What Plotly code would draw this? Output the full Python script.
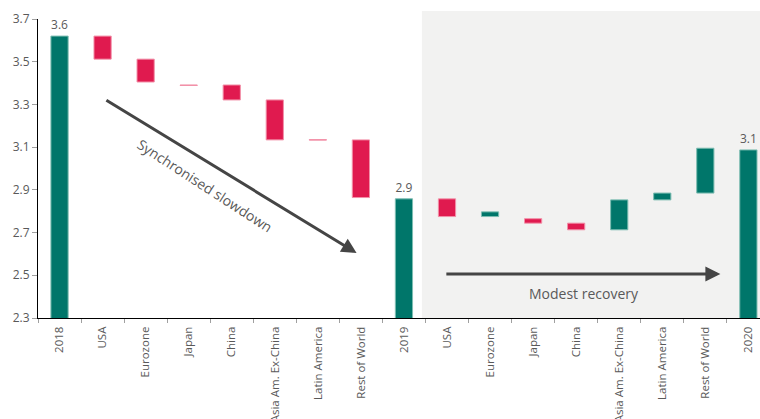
import plotly.graph_objects as go

# ---- data ----
labels = ["2018", "USA", "Eurozone", "Japan", "China", "Asia Am. Ex-China",
          "Latin America", "Rest of World", "2019", "USA", "Eurozone", "Japan",
          "China", "Asia Am. Ex-China", "Latin America", "Rest of World", "2020"]
is_total = [True, False, False, False, False, False, False, False, True,
            False, False, False, False, False, False, False, True]
# start / end level of each bar (totals start at 0)
bar_from = [0.0, 3.620, 3.512, 3.391, 3.391, 3.321, 3.135, 3.134, 0.0,
            2.858, 2.775, 2.765, 2.744, 2.713, 2.853, 2.885, 0.0]
bar_to = [3.620, 3.512, 3.405, 3.389, 3.321, 3.134, 3.133, 2.864, 2.858,
          2.775, 2.797, 2.744, 2.713, 2.853, 2.885, 3.095, 3.087]
y_ticks = [2.3, 2.5, 2.7, 2.9, 3.1, 3.3, 3.5, 3.7]

TEAL = "#00766A"
TEAL_EDGE = "#7DBDB2"
RED = "#E01A4F"
RED_EDGE = "#F290A8"
GREY_TXT = "#595959"
FONT = "Open Sans"

x = list(range(len(labels)))
base = [min(a, b) for a, b in zip(bar_from, bar_to)]
height = [abs(b - a) for a, b in zip(bar_from, bar_to)]
colors = [TEAL if (t or b >= a) else RED for t, a, b in zip(is_total, bar_from, bar_to)]
edges = [TEAL_EDGE if (t or b >= a) else RED_EDGE for t, a, b in zip(is_total, bar_from, bar_to)]
texts = [f"{v:.1f}" if t else "" for t, v in zip(is_total, bar_to)]

fig = go.Figure()
fig.add_trace(go.Bar(
    x=x, y=height, base=base, width=0.4,
    marker=dict(color=colors, line=dict(color=edges, width=1)),
    text=texts, textposition="outside", cliponaxis=False,
    textfont=dict(size=12, color=GREY_TXT, family=FONT),
    hoverinfo="skip", showlegend=False,
))

# shaded 2020 region
fig.add_shape(type="rect", xref="paper", yref="paper", x0=0.5317, x1=1.0,
              y0=0, y1=1.027, fillcolor="#F2F2F1", line=dict(width=0), layer="below")

ann = []
# arrows
ann.append(dict(x=6.90, y=2.604, ax=1.054, ay=3.324, xref="x", yref="y",
                axref="x", ayref="y", text="", showarrow=True, arrowhead=2,
                arrowsize=1, arrowwidth=3, arrowcolor="#454545"))
ann.append(dict(x=15.35, y=2.506, ax=8.95, ay=2.506, xref="x", yref="y",
                axref="x", ayref="y", text="", showarrow=True, arrowhead=2,
                arrowsize=1, arrowwidth=3, arrowcolor="#454545"))
ann.append(dict(x=3.375, y=2.919, xref="x", yref="y", text="Synchronised slowdown",
                showarrow=False, textangle=33,
                font=dict(size=14, color=GREY_TXT, family=FONT)))
ann.append(dict(x=12.19, y=2.414, xref="x", yref="y", text="Modest recovery",
                showarrow=False, font=dict(size=14, color=GREY_TXT, family=FONT)))

fig.update_layout(
    width=760, height=419,
    margin=dict(l=38, r=0, t=19, b=101, autoexpand=False),
    plot_bgcolor="rgba(0,0,0,0)", paper_bgcolor="white",
    bargap=0.6, annotations=ann,
    font=dict(family=FONT, color=GREY_TXT),
)
fig.update_xaxes(
    range=[-0.5, 16.27], tickmode="array", tickvals=x, ticktext=labels,
    tickangle=-90, ticks="", showgrid=False, zeroline=False,
    showline=True, linecolor="black", linewidth=1, automargin=False,
    ticklabelstandoff=3,
    tickfont=dict(size=11.5, color=GREY_TXT, family=FONT),
    minor=dict(tick0=0.5, dtick=1, ticks="outside", ticklen=4, tickcolor="#A0A0A0", showgrid=False),
)
fig.update_yaxes(
    range=[2.3, 3.7], tickmode="array", tickvals=y_ticks,
    ticktext=[f"{v:.1f}" for v in y_ticks], ticks="outside", ticklen=5,
    tickcolor="#A0A0A0", showgrid=False, zeroline=False, showline=True,
    linecolor="black", linewidth=1, automargin=False,
    tickfont=dict(size=12, color=GREY_TXT, family=FONT),
)

fig.write_html("out.html")
